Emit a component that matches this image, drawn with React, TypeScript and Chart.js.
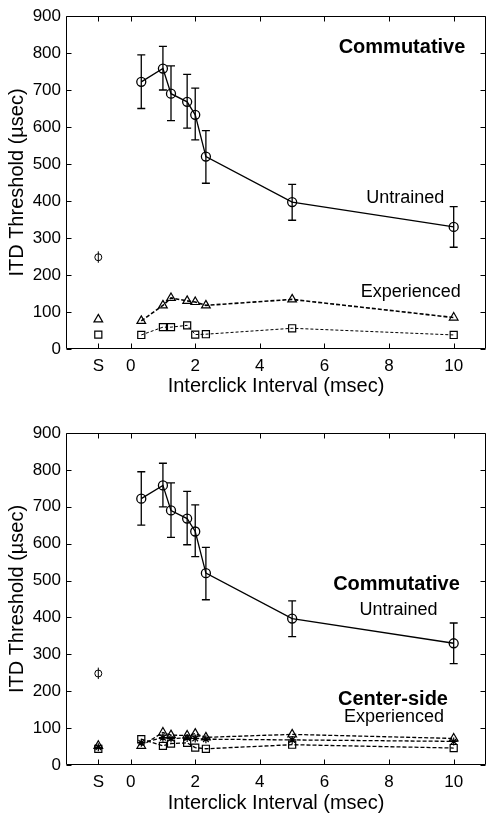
import React, { useEffect, useRef } from "react";
import { Chart, registerables } from "chart.js";

Chart.register(...registerables);

const FONT = '"Liberation Sans", Arial, Helvetica, sans-serif';

// ---- data ----
const intervals = [0.33, 1, 1.25, 1.75, 2, 2.33, 5, 10];
const singleClickPos = [-1];
const xTickValues = [-1, 0, 2, 4, 6, 8, 10];
const xTickLabels = ["S", "0", "2", "4", "6", "8", "10"];
const yTickValues = [0, 100, 200, 300, 400, 500, 600, 700, 800, 900];

const untrained = [722, 758, 690, 668, 633, 520, 397, 330];
const untrainedLow = [650, 700, 617, 597, 565, 448, 348, 275];
const untrainedHigh = [795, 818, 765, 742, 705, 590, 445, 385];
const untrainedS = [248];
const untrainedSLow = [233];
const untrainedSHigh = [264];

const commTri = [76, 118, 138, 130, 127, 118, 134, 85];
const commTriS = [80];
const commSq = [38, 59, 59, 64, 39, 40, 56, 38];
const commSqS = [39];

const csTri = [52, 88, 81, 80, 85, 75, 83, 72];
const csTriS = [52];
const csStar = [60, 74, 72, 73, 72, 70, 68, 64];
const csStarS = [48];
const csSq = [70, 52, 58, 60, 47, 44, 55, 46];
const csSqS = [44];

const topTexts = [
  { text: "Commutative", x: 8.4, y: 815, bold: true },
  { text: "Untrained", x: 8.5, y: 409, bold: false },
  { text: "Experienced", x: 8.67, y: 155, bold: false },
];
const bottomTexts = [
  { text: "Commutative", x: 8.23, y: 488, bold: true },
  { text: "Untrained", x: 8.29, y: 421, bold: false },
  { text: "Center-side", x: 8.12, y: 178, bold: true },
  { text: "Experienced", x: 8.15, y: 130, bold: false },
];

const pts = (xs: number[], ys: number[]) => xs.map((x, i) => ({ x, y: ys[i] }));

// ---- plugins ----
const framePlugin = {
  id: "frame",
  afterDraw(chart: any) {
    const { ctx, chartArea } = chart;
    const xs = chart.scales.x;
    const ys = chart.scales.y;
    const l = Math.round(chartArea.left) + 0.5;
    const r = Math.round(chartArea.right) - 0.5;
    const t = Math.round(chartArea.top) + 0.5;
    const b = Math.round(chartArea.bottom) - 0.5;
    ctx.save();
    ctx.strokeStyle = "#000";
    ctx.lineWidth = 1;
    ctx.beginPath();
    ctx.rect(l, t, r - l, b - t);
    const tl = 5;
    yTickValues.forEach((v) => {
      const py = Math.round(ys.getPixelForValue(v)) + 0.5;
      ctx.moveTo(l, py);
      ctx.lineTo(l + tl, py);
      ctx.moveTo(r, py);
      ctx.lineTo(r - tl, py);
    });
    xTickValues.forEach((v) => {
      const px = Math.round(xs.getPixelForValue(v)) + 0.5;
      ctx.moveTo(px, b);
      ctx.lineTo(px, b - tl);
      ctx.moveTo(px, t);
      ctx.lineTo(px, t + tl);
    });
    ctx.stroke();
    ctx.restore();
  },
};

const errorBarPlugin = {
  id: "errorBars",
  afterDatasetsDraw(chart: any) {
    const { ctx } = chart;
    const ys = chart.scales.y;
    chart.data.datasets.forEach((ds: any, i: number) => {
      const eb = ds.errorBars;
      if (!eb) return;
      const meta = chart.getDatasetMeta(i);
      ctx.save();
      ctx.strokeStyle = "#000";
      ctx.lineWidth = eb.width || 1.3;
      meta.data.forEach((pt: any, j: number) => {
        const yl = ys.getPixelForValue(eb.low[j]);
        const yh = ys.getPixelForValue(eb.high[j]);
        const c = eb.cap;
        ctx.beginPath();
        ctx.moveTo(pt.x, yl);
        ctx.lineTo(pt.x, yh);
        if (c > 0) {
          ctx.moveTo(pt.x - c, yl);
          ctx.lineTo(pt.x + c, yl);
          ctx.moveTo(pt.x - c, yh);
          ctx.lineTo(pt.x + c, yh);
        }
        ctx.stroke();
      });
      ctx.restore();
    });
  },
};

const makeTextPlugin = (items: { text: string; x: number; y: number; bold: boolean }[]) => ({
  id: "texts",
  afterDraw(chart: any) {
    const { ctx } = chart;
    const xs = chart.scales.x;
    const ys = chart.scales.y;
    ctx.save();
    ctx.fillStyle = "#000";
    ctx.textAlign = "center";
    ctx.textBaseline = "middle";
    items.forEach((it) => {
      ctx.font = it.bold ? `bold 20px ${FONT}` : `18px ${FONT}`;
      ctx.fillText(it.text, xs.getPixelForValue(it.x), ys.getPixelForValue(it.y));
    });
    ctx.restore();
  },
});

// ---- datasets ----
const untrainedSets = () => [
  {
    label: "Untrained",
    data: pts(intervals, untrained),
    showLine: true,
    borderColor: "#000",
    borderWidth: 1.3,
    pointStyle: "circle",
    pointRadius: 4.5,
    pointBorderWidth: 1.3,
    pointBorderColor: "#000",
    pointBackgroundColor: "rgba(0,0,0,0)",
    errorBars: { low: untrainedLow, high: untrainedHigh, cap: 4, width: 1.3 },
  },
  {
    label: "Untrained S",
    data: pts(singleClickPos, untrainedS),
    showLine: false,
    pointStyle: "circle",
    pointRadius: 3.5,
    pointBorderWidth: 1,
    pointBorderColor: "#000",
    pointBackgroundColor: "rgba(0,0,0,0)",
    errorBars: { low: untrainedSLow, high: untrainedSHigh, cap: 0, width: 1 },
  },
];

const expSet = (
  label: string,
  ys: number[],
  sVal: number[],
  style: string,
  radius: number,
  dash: number[],
  width: number
) => [
  {
    label,
    data: pts(intervals, ys),
    showLine: true,
    borderColor: "#000",
    borderWidth: width,
    borderDash: dash,
    pointStyle: style,
    pointRadius: radius,
    pointBorderWidth: 1.2,
    pointBorderColor: "#000",
    pointBackgroundColor: "rgba(0,0,0,0)",
  },
  {
    label: label + " S",
    data: pts(singleClickPos, sVal),
    showLine: false,
    pointStyle: style,
    pointRadius: radius,
    pointBorderWidth: 1.2,
    pointBorderColor: "#000",
    pointBackgroundColor: "rgba(0,0,0,0)",
  },
];

const topDatasets = () => [
  ...untrainedSets(),
  ...expSet("Commutative triangles", commTri, commTriS, "triangle", 5, [4, 2], 1.6),
  ...expSet("Commutative squares", commSq, commSqS, "rect", 5, [3, 2], 1),
];

const bottomDatasets = () => [
  ...untrainedSets(),
  ...expSet("Center-side triangles", csTri, csTriS, "triangle", 5, [4, 2], 1.3),
  ...expSet("Center-side stars", csStar, csStarS, "star", 4, [4, 2], 1.3),
  ...expSet("Center-side squares", csSq, csSqS, "rect", 5, [4, 2], 1.3),
];

type PanelProps = {
  height: number;
  padTop: number;
  xHeight: number;
  titlePadBottom: number;
  datasets: () => any[];
  texts: { text: string; x: number; y: number; bold: boolean }[];
};

function Panel({ height, padTop, xHeight, titlePadBottom, datasets, texts }: PanelProps) {
  const ref = useRef<HTMLCanvasElement>(null);
  useEffect(() => {
    const chart = new Chart(ref.current as HTMLCanvasElement, {
      type: "scatter",
      data: { datasets: datasets() as any },
      options: {
        responsive: false,
        animation: false,
        events: [],
        layout: { autoPadding: false, padding: { top: padTop, right: 1, left: 0, bottom: 0 } },
        plugins: { legend: { display: false }, tooltip: { enabled: false } },
        scales: {
          x: {
            type: "linear",
            min: -2,
            max: 11,
            grid: { display: false, drawTicks: false, tickLength: 0 },
            border: { display: false },
            afterBuildTicks: (scale: any) => {
              scale.ticks = xTickValues.map((v) => ({ value: v }));
            },
            afterFit: (scale: any) => {
              scale.height = xHeight;
              scale.paddingLeft = 0;
              scale.paddingRight = 0;
            },
            ticks: {
              autoSkip: false,
              maxRotation: 0,
              minRotation: 0,
              padding: 7,
              color: "#000",
              font: { family: FONT, size: 17 },
              callback: (v: any) => {
                const i = xTickValues.indexOf(Number(v));
                return i >= 0 ? xTickLabels[i] : "";
              },
            },
            title: {
              display: true,
              text: "Interclick Interval (msec)",
              color: "#000",
              font: { family: FONT, size: 20 },
              padding: { top: 0, bottom: titlePadBottom },
            },
          },
          y: {
            type: "linear",
            min: 0,
            max: 900,
            grid: { display: false, drawTicks: false, tickLength: 0 },
            border: { display: false },
            afterBuildTicks: (scale: any) => {
              scale.ticks = yTickValues.map((v) => ({ value: v }));
            },
            afterFit: (scale: any) => {
              scale.width = 66;
            },
            ticks: {
              padding: 5,
              color: "#000",
              font: { family: FONT, size: 17 },
            },
            title: {
              display: true,
              text: "ITD Threshold (\u00B5sec)",
              color: "#000",
              font: { family: FONT, size: 20 },
              padding: { top: 5.5, bottom: 0 },
            },
          },
        },
      } as any,
      plugins: [framePlugin, errorBarPlugin, makeTextPlugin(texts)],
    });
    return () => chart.destroy();
  }, []);
  return (
    <canvas ref={ref} width={487} height={height} style={{ display: "block", width: 487, height }} />
  );
}

export default function App() {
  return (
    <div style={{ position: "absolute", left: 0, top: 0, width: 487, height: 817, background: "#fff" }}>
      <Panel height={400} padTop={16} xHeight={51} titlePadBottom={2} datasets={topDatasets} texts={topTexts} />
      <Panel height={417} padTop={33} xHeight={52} titlePadBottom={2} datasets={bottomDatasets} texts={bottomTexts} />
    </div>
  );
}
